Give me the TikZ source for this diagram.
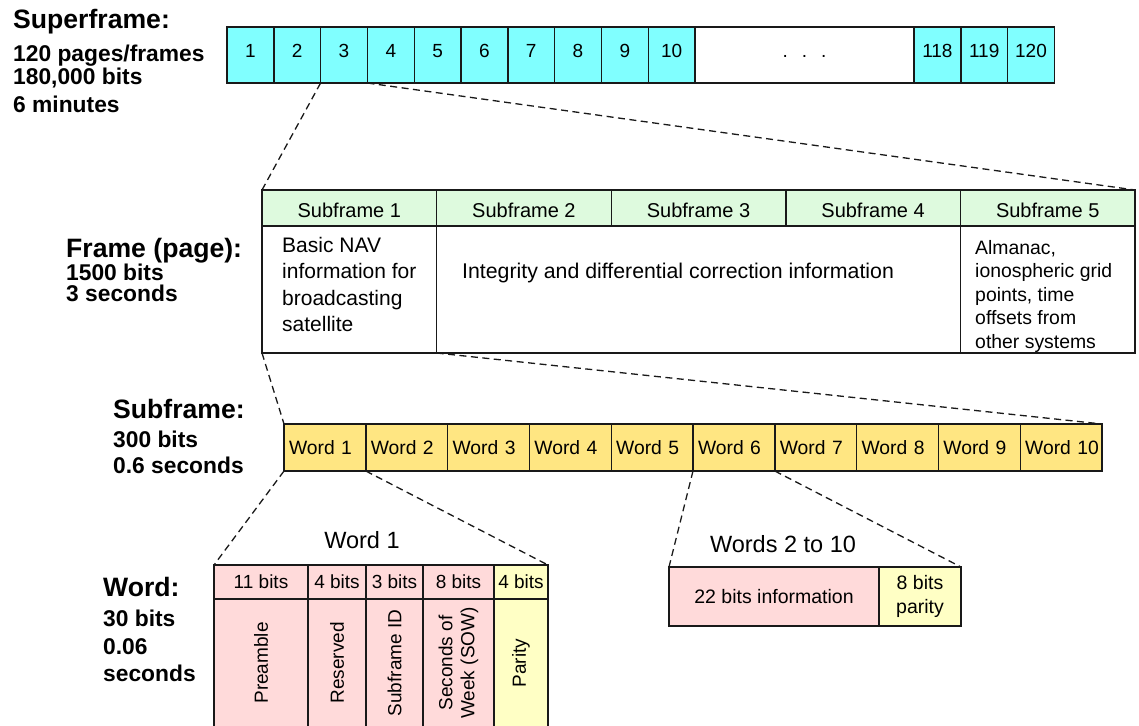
\documentclass[tikz,border=0pt]{standalone}
\usepackage{fontspec}
\setmainfont{Liberation Sans}
\usetikzlibrary{positioning}

\definecolor{supcyan}{RGB}{128,255,255}
\definecolor{headgreen}{RGB}{222,250,222}
\definecolor{wordgold}{RGB}{255,230,130}
\definecolor{bitspink}{RGB}{255,218,218}
\definecolor{parityyellow}{RGB}{255,255,197}

\begin{document}
\begin{tikzpicture}[x=1pt,y=-1pt,
	box/.style={draw=black!90,line width=1.4pt,inner sep=0pt,outer sep=0pt},
	supcell/.style={box,fill=supcyan,minimum width=46.8pt,minimum height=56pt,text height=13.6pt,text depth=9.3pt,font=\fontsize{19}{22}\selectfont},
	headcell/.style={box,fill=headgreen,minimum width=174.6pt,minimum height=36pt,text height=18pt,text depth=0pt,font=\fontsize{20}{24}\selectfont},
	bodycell/.style={box,minimum height=127pt},
	wordcell/.style={box,fill=wordgold,minimum height=47pt,text width=77.8pt,inner xsep=2pt,align=left,execute at begin node=\hspace{3pt},font=\fontsize{19.3}{23}\selectfont},
	bitscell/.style={box,minimum height=34pt,font=\fontsize{19}{22}\selectfont},
	vtext/.style={rotate=90,align=center,inner sep=0pt,font=\fontsize{19}{22}\selectfont},
	zoomline/.style={black!90,line width=1.3pt,dash pattern=on 7pt off 4.5pt},
	heading/.style={anchor=base west,inner sep=0pt,font=\bfseries\fontsize{26.6}{30}\selectfont},
	detail/.style={anchor=base west,inner sep=0pt,font=\bfseries\fontsize{22.8}{27}\selectfont},
	title/.style={anchor=base,inner sep=0pt,font=\fontsize{23.5}{27}\selectfont}]
	
		\useasboundingbox (0,0) rectangle (1139,725);
		\clip (0,0) rectangle (1139,725);
		
		\node[supcell] (Super1) at (250.4,55) {1};
		\foreach \i [remember=\i as \prev (initially 1)] in {2,...,10} {
			\node[supcell,right=0pt of Super\prev] (Super\i) {\i};
		}
		\node[supcell,fill=white,minimum width=219pt,right=0pt of Super10] (Gap) {.\hspace{14pt}.\hspace{14pt}.};
		\node[supcell,right=0pt of Gap] (Super118) {118};
		\node[supcell,right=0pt of Super118] (Super119) {119};
		\node[supcell,right=0pt of Super119] (Super120) {120};
		
		\node[headcell] (Head1) at (349.3,208) {Subframe 1};
		\foreach \i [remember=\i as \prev (initially 1)] in {2,...,5} {
			\node[headcell,right=0pt of Head\prev] (Head\i) {Subframe \i};
		}
		\node[bodycell,minimum width=174.6pt,below=0pt of Head1] (Body1) {};
		\node[bodycell,minimum width=523.8pt,anchor=north west] (Body2) at (Head2.south west) {};
		\node[bodycell,minimum width=174.6pt,below=0pt of Head5] (Body5) {};
		
		\node[anchor=north west,align=left,inner sep=0pt,font=\fontsize{21}{26.5}\selectfont] (NavInfo) at (282,237) {Basic NAV\\information for\\broadcasting\\satellite};
		\node[anchor=base west,inner sep=0pt,font=\fontsize{21.3}{25}\selectfont] (CorrInfo) at (462,278) {Integrity and differential correction information};
		\node[anchor=north west,align=left,inner sep=0pt,font=\fontsize{19.4}{23.5}\selectfont] (AlmInfo) at (975,240) {Almanac,\\ionospheric grid\\points, time\\offsets from\\other systems};
		
		\node[wordcell] (Word1) at (324.9,447.5) {Word 1};
		\foreach \i [remember=\i as \prev (initially 1)] in {2,...,10} {
			\node[wordcell,right=0pt of Word\prev] (Word\i) {Word \i};
		}
		
		\foreach \i/\xa/\w/\bits/\name/\col in {1/214/94/11 bits/Preamble/bitspink, 2/308/58/4 bits/Reserved/bitspink, 3/366/57/3 bits/Subframe ID/bitspink, 4/423/71/8 bits/{Seconds of\\Week (SOW)}/bitspink, 5/494/54/4 bits/Parity/parityyellow} {
			\node[bitscell,fill=\col,minimum width=\w pt,anchor=north west] (Bits\i) at (\xa,565) {\bits};
			\node[box,fill=\col,minimum width=\w pt,minimum height=128pt,below=0pt of Bits\i] (BitsBody\i) {};
			\node[vtext] (BitsName\i) at (BitsBody\i) {\name};
		}
		
		\node[box,fill=bitspink,minimum width=210pt,minimum height=59pt,font=\fontsize{19.5}{24}\selectfont] (InfoBox) at (774,596.5) {22 bits information};
		\node[box,fill=parityyellow,minimum width=82pt,minimum height=59pt,align=center,font=\fontsize{19.5}{24}\selectfont,right=0pt of InfoBox] (ParityBox) {8 bits\\parity};
		
		\node[title] (WordTitle) at (362,548) {Word 1};
		\node[title] (WordsTitle) at (783,552) {Words 2 to 10};
		
		\draw[zoomline] (Super3.south west) -- (Head1.north west);
		\draw[zoomline] (Super3.south east) -- (Head5.north east);
		\draw[zoomline] (Body1.south west) -- (Word1.north west);
		\draw[zoomline] (Body1.south east) -- (Word10.north east);
		\draw[zoomline] (Word1.south west) -- (Bits1.north west);
		\draw[zoomline] (Word1.south east) -- (Bits5.north east);
		\draw[zoomline] (Word6.south west) -- (InfoBox.north west);
		\draw[zoomline] (Word6.south east) -- (ParityBox.north east);
		
		\node[heading] (SuperLabel) at (13,29) {Superframe:};
		\node[detail] (SuperPages) at (13,61) {120 pages/frames};
		\node[detail] (SuperBits) at (13,84) {180,000 bits};
		\node[detail] (SuperTime) at (13,112) {6 minutes};
		
		\node[heading] (FrameLabel) at (66,257) {Frame (page):};
		\node[detail] (FrameBits) at (66,280) {1500 bits};
		\node[detail] (FrameTime) at (66,301) {3 seconds};
		
		\node[heading] (SubLabel) at (113,418) {Subframe:};
		\node[detail] (SubBits) at (113,447) {300 bits};
		\node[detail] (SubTime) at (113,473) {0.6 seconds};
		
		\node[heading] (WordLabel) at (103,596) {Word:};
		\node[detail] (WordBits) at (103,626) {30 bits};
		\node[detail] (WordTime) at (103,654) {0.06};
		\node[detail] (WordUnit) at (103,681) {seconds};
		
	\end{tikzpicture}
\end{document}
